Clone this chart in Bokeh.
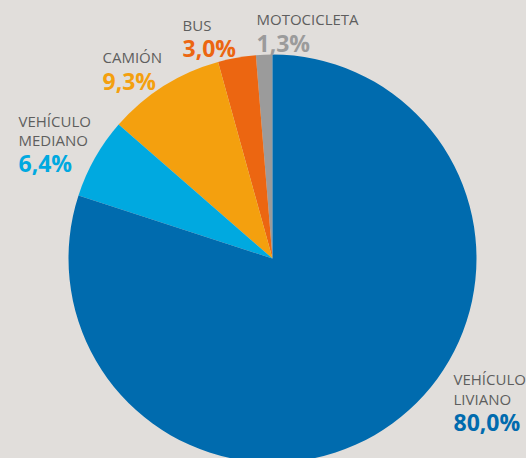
import math
from jinja2 import Template
from bokeh.plotting import figure
from bokeh.models import Range1d, ColumnDataSource
from bokeh.core.properties import value
from bokeh.embed import file_html
from bokeh.resources import INLINE

# data (counter-clockwise from the top)
categories = ["MOTOCICLETA", "BUS", "CAMIÓN", "VEHÍCULO\nMEDIANO", "VEHÍCULO\nLIVIANO"]
shares = [1.3, 3.0, 9.3, 6.4, 80.0]
pct_labels = ["1,3%", "3,0%", "9,3%", "6,4%", "80,0%"]
colors = ["#9b9b9b", "#ec6611", "#f4a00e", "#00a9e0", "#006bae"]

W, H = 526, 458
BG = "#e1dedb"
cx, cy, R = 272, H - 258, 204

starts, ends = [], []
cum = 0.0
total = sum(shares)
for s in shares:
    starts.append(math.pi / 2 + 2 * math.pi * cum / total)
    cum += s
    ends.append(math.pi / 2 + 2 * math.pi * cum / total)

p = figure(width=W, height=H, output_backend="svg", toolbar_location=None,
           x_range=Range1d(0, W), y_range=Range1d(0, H), min_border=0,
           background_fill_color=BG, border_fill_color=BG)
p.axis.visible = False
p.grid.visible = False
p.outline_line_color = None

src = ColumnDataSource(dict(start=starts, end=ends, color=colors))
p.wedge(x=cx, y=cy, radius=R, start_angle="start", end_angle="end",
        direction="anticlock", fill_color="color", line_color=None, source=src)

# label layout: (x, name baseline(s) in px from top, pct baseline)
label_x = [256, 182, 102, 18, 453]
name_base = [[18], [24], [56], [120, 139], [378, 398]]
pct_base = [42, 47, 80, 162, 421]

for cat, pl, col, x, nb, pb in zip(categories, pct_labels, colors, label_x, name_base, pct_base):
    for line, b in zip(cat.split("\n"), nb):
        p.text(x=[x], y=[H - b], text=[line], text_font=value("Open Sans"),
               text_font_size="15px", text_color="#5e5e5e", text_baseline="alphabetic",
               text_align="left")
    p.text(x=[x], y=[H - pb], text=[pl], text_font=value("Open Sans"),
           text_font_size="23px", text_font_style="bold", text_color=col,
           text_baseline="alphabetic", text_align="left")

template = Template("""{% from macros import embed %}
<!DOCTYPE html>
<html lang="en">
<head>
<meta charset="utf-8">
<title>{{ title }}</title>
<style>html, body { margin: 0; padding: 0; background: #e1dedb; overflow: hidden; }</style>
{{ bokeh_css }}
{{ bokeh_js }}
</head>
<body>
{{ plot_div | indent(8) }}
{{ plot_script | indent(8) }}
</body>
</html>
""")

open("out.html", "w").write(file_html(p, INLINE, template=template))
